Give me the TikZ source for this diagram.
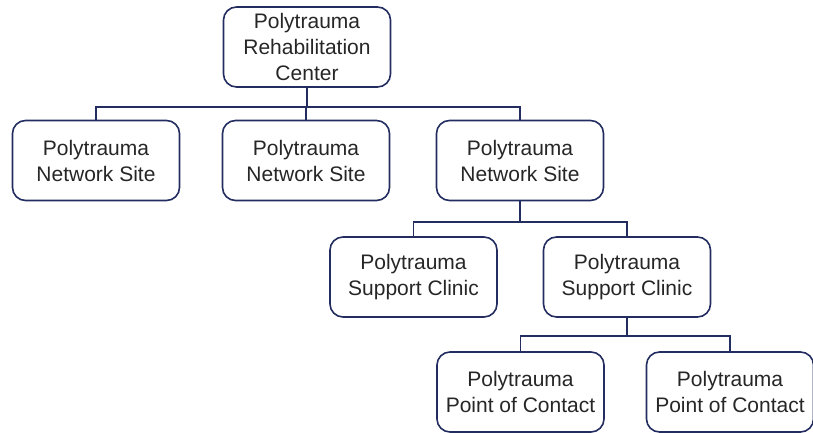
\documentclass[tikz,border=0pt]{standalone}
\usepackage{fontspec}
\setmainfont{Liberation Sans}
\definecolor{linecol}{RGB}{35,45,95}
\definecolor{textcol}{RGB}{38,38,38}
\begin{document}
\begin{tikzpicture}[x=1pt,y=-1pt,
  unit/.style={draw=linecol, line width=1.6pt, rounded corners=13pt,
    minimum width=167pt, minimum height=80pt, inner sep=0pt,
    align=center, text=textcol, font=\fontsize{21}{26}\selectfont},
  link/.style={draw=linecol, line width=1.5pt}]
\useasboundingbox (0,0) rectangle (813,433);
% top level
\node[unit] (prc) at (307,47) {Polytrauma\\Rehabilitation\\Center};
% network sites
\node[unit] (ns1) at (96,160.5) {Polytrauma\\Network Site};
\node[unit] (ns2) at (306,160.5) {Polytrauma\\Network Site};
\node[unit] (ns3) at (520,160.5) {Polytrauma\\Network Site};
% support clinics
\node[unit] (sc1) at (413.5,277) {Polytrauma\\Support Clinic};
\node[unit] (sc2) at (627,277) {Polytrauma\\Support Clinic};
% points of contact
\node[unit] (pc1) at (520.5,392) {Polytrauma\\Point of Contact};
\node[unit] (pc2) at (730,392) {Polytrauma\\Point of Contact};
% junctions
\coordinate (j1) at (307,107);
\coordinate (j2) at (520,222);
\coordinate (j3) at (627,336);
% connectors
\draw[link] (prc) -- (j1);
\draw[link] (j1) -| (ns1);
\draw[link] (j1) -| (ns2);
\draw[link] (j1) -| (ns3);
\draw[link] (ns3) -- (j2);
\draw[link] (j2) -| (sc1);
\draw[link] (j2) -| (sc2);
\draw[link] (sc2) -- (j3);
\draw[link] (j3) -| (pc1);
\draw[link] (j3) -| (pc2);
\end{tikzpicture}
\end{document}
